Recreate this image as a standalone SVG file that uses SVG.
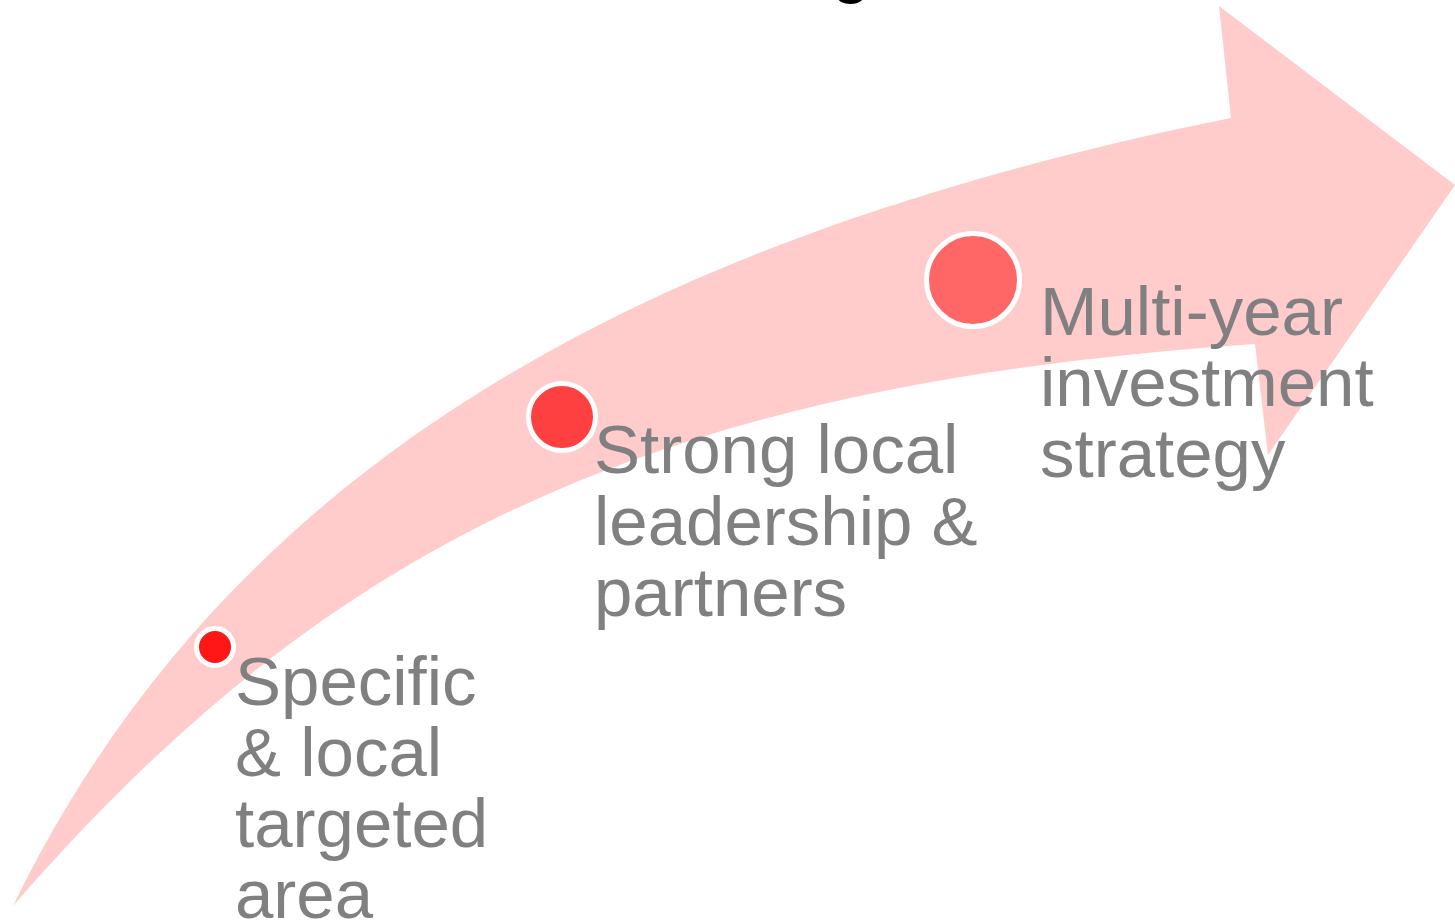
<svg xmlns="http://www.w3.org/2000/svg" width="1455" height="923" viewBox="0 0 1455 923">
<style>
.lbl{font-family:"Liberation Sans",Arial,sans-serif;font-size:69px;fill:#808080}
.dot{stroke:#ffffff;stroke-width:5}
</style>
<rect width="1455" height="923" fill="#ffffff"/>
<text x="831" y="-11" style="font-family:'Liberation Sans',Arial,sans-serif;font-size:72px;fill:#000000">g</text>
<g id="connectors">
<path id="arrow" d="M13,906 C230,460 650,235 1231,118 L1219,6 L1455,185 L1268,455 L1255,344 C660,385 335,535 13,906 Z" fill="#FFCBCB"/>
</g>
<g id="node1">
<circle class="dot" cx="215" cy="647" r="18.5" fill="#FF1616"/>
<text class="lbl" x="235"><tspan x="235" y="705">Specific</tspan><tspan x="235" y="776">&amp; local</tspan><tspan x="235" y="847">targeted</tspan><tspan x="235" y="918">area</tspan></text>
</g>
<g id="node2">
<circle class="dot" cx="562" cy="417" r="33.5" fill="#FF4040"/>
<text class="lbl"><tspan x="594" y="473">Strong local</tspan><tspan x="594" y="545">leadership &amp;</tspan><tspan x="594" y="616">partners</tspan></text>
</g>
<g id="node3">
<circle class="dot" cx="973" cy="280" r="46.5" fill="#FF6666"/>
<text class="lbl"><tspan x="1040" y="335">Multi-year</tspan><tspan x="1040" y="406">investment</tspan><tspan x="1040" y="477">strategy</tspan></text>
</g>
</svg>
